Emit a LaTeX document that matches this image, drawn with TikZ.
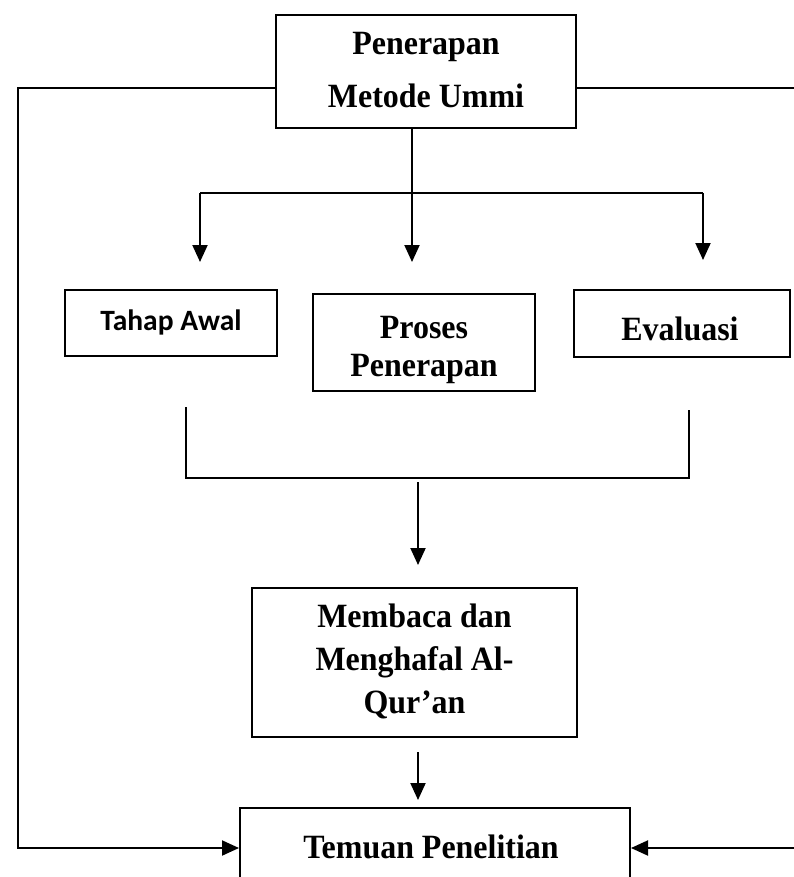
\documentclass[tikz,border=0pt]{standalone}
\usepackage{fontspec}
\setmainfont{Liberation Serif}[FakeStretch=0.94]
\newfontfamily\carlfont{Carlito}
\usetikzlibrary{arrows.meta}
\begin{document}
\begin{tikzpicture}[x=1pt,y=-1pt,
  line width=2pt,
  box/.style={draw, line width=2pt, rectangle, inner sep=0pt},
  txt/.style={inner sep=0pt, align=center, font=\bfseries\fontsize{34}{43}\selectfont},
  arr/.style={-{Triangle[width=15pt,length=17pt]}}]
\useasboundingbox (0,0) rectangle (794,877);
% boxes
\node[box, minimum width=300pt, minimum height=113pt] (top) at (426,71.5) {};
\node[box, minimum width=212pt, minimum height=66pt] (tahap) at (171,323) {};
\node[box, minimum width=222pt, minimum height=97pt] (proses) at (424,342) {};
\node[box, minimum width=216pt, minimum height=67pt] (eval) at (682,323.5) {};
\node[box, minimum width=325pt, minimum height=149pt] (membaca) at (414.5,662.5) {};
\node[box, minimum width=390pt, minimum height=80pt] (temuan) at (435,848) {};
% texts
\node[txt, font=\bfseries\fontsize{34}{53}\selectfont] (topt) at (426,70) {Penerapan\\Metode Ummi};
\node[txt, font=\carlfont\bfseries\fontsize{29.5}{33}\selectfont] (tahapt) at (171,322) {Tahap Awal};
\node[txt, font=\bfseries\fontsize{34}{38}\selectfont] (prosest) at (424,350) {Proses\\Penerapan};
\node[txt] (evalt) at (680,329) {Evaluasi};
\node[txt] (membacat) at (414.5,661) {Membaca dan\\Menghafal Al-\\Qur'an};
\node[txt] (temuant) at (431,847) {Temuan Penelitian};
% branch from top
\coordinate (bl) at (200,193);
\coordinate (br) at (703,193);
\coordinate (tl) at (200,262);
\coordinate (tm) at (412,262);
\coordinate (tr) at (703,260);
\draw[arr] (top.south -| tm) -- (tm);
\draw (bl) -- (br);
\draw[arr] (bl) -- (tl);
\draw[arr] (br) -- (tr);
% collecting bracket
\coordinate (cl) at (186,407);
\coordinate (cr) at (689,410);
\coordinate (cb) at (418,478);
\draw (cl) |- (cb) -| (cr);
\coordinate (a1) at (418,482);
\coordinate (a2) at (418,565);
\draw[arr] (a1) -- (a2);
\coordinate (a3) at (418,752);
\coordinate (a4) at (418,800);
\draw[arr] (a3) -- (a4);
% side connectors
\coordinate (lt) at (18,88);
\coordinate (rt) at (798,88);
\draw[arr] (top.west |- lt) -- (lt) |- (temuan.west);
\draw[arr] (top.east |- rt) -- (rt) |- (temuan.east);
\end{tikzpicture}
\end{document}
